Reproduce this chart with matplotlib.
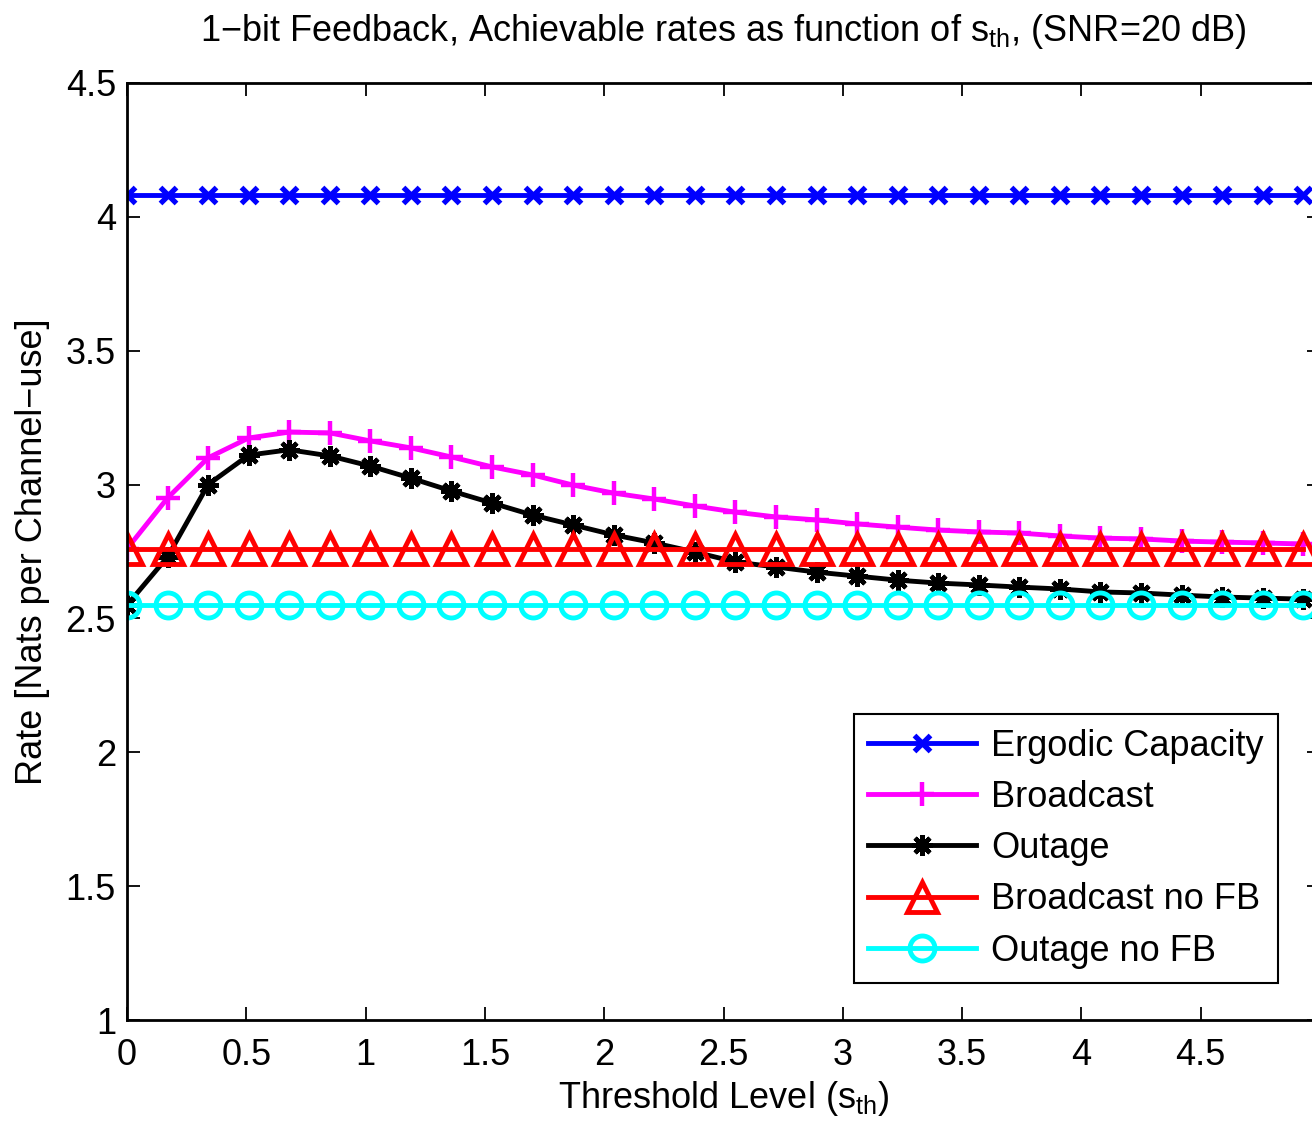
import matplotlib
matplotlib.use("Agg")
import matplotlib.pyplot as plt

plt.rcParams['font.family'] = ['Liberation Sans', 'DejaVu Sans']
plt.rcParams['mathtext.fontset'] = 'custom'
plt.rcParams['mathtext.rm'] = 'Liberation Sans'
plt.rcParams['mathtext.it'] = 'Liberation Sans'
plt.rcParams['mathtext.default'] = 'regular'

# threshold levels
s_th = [0.00, 0.17, 0.34, 0.51, 0.68, 0.85, 1.02, 1.19, 1.36, 1.53,
        1.70, 1.87, 2.04, 2.21, 2.38, 2.55, 2.72, 2.89, 3.06, 3.23,
        3.40, 3.57, 3.74, 3.91, 4.08, 4.25, 4.42, 4.59, 4.76, 4.93]

ergodic = [4.08] * 30
broadcast = [2.76, 2.95, 3.10, 3.174, 3.196, 3.193, 3.163, 3.137, 3.103, 3.066,
             3.036, 2.998, 2.968, 2.946, 2.920, 2.897, 2.879, 2.868, 2.853, 2.841,
             2.830, 2.823, 2.819, 2.808, 2.800, 2.797, 2.789, 2.785, 2.782, 2.778]
outage = [2.55, 2.73, 3.00, 3.11, 3.13, 3.107, 3.069, 3.024, 2.976, 2.931,
          2.886, 2.849, 2.812, 2.782, 2.748, 2.711, 2.692, 2.673, 2.658, 2.643,
          2.632, 2.625, 2.617, 2.610, 2.599, 2.595, 2.587, 2.580, 2.576, 2.572]
broadcast_nofb = [2.76] * 30
outage_nofb = [2.55] * 30

fig = plt.figure(figsize=(13.12, 11.25), dpi=100)
ax = fig.add_axes([127/1312, 105/1125, (1320-127)/1312, 937/1125])

lw = 3.5
ax.plot(s_th, ergodic, color=(0, 0, 1), lw=lw, marker='x', ms=11, mew=3.8, label='Ergodic Capacity')
ax.plot(s_th, broadcast, color=(1, 0, 1), lw=lw, marker='+', ms=17, mew=3.2, label='Broadcast')
ax.plot(s_th, outage, color='k', lw=lw, marker=(8, 2, 0), ms=15, mew=3.2, label='Outage')
ax.plot(s_th, broadcast_nofb, color=(1, 0, 0), lw=lw, marker='^', ms=21, mew=3.5, mfc='none', label='Broadcast no FB')
ax.plot(s_th, outage_nofb, color=(0, 1, 1), lw=lw, marker='o', ms=18, mew=3.5, mfc='none', label='Outage no FB')

ax.set_xlim(0, 5)
ax.set_ylim(1, 4.5)
ax.set_xticks([0, 0.5, 1, 1.5, 2, 2.5, 3, 3.5, 4, 4.5])
ax.set_xticklabels(['0', '0.5', '1', '1.5', '2', '2.5', '3', '3.5', '4', '4.5'])
ax.set_yticks([1, 1.5, 2, 2.5, 3, 3.5, 4, 4.5])
ax.set_yticklabels(['1', '1.5', '2', '2.5', '3', '3.5', '4', '4.5'])
ax.tick_params(axis='both', direction='in', top=True, right=True, length=9.5, width=1.3, labelsize=26)
ax.tick_params(axis='x', pad=13)
ax.tick_params(axis='y', pad=8)
for sp in ax.spines.values():
    sp.set_linewidth(2)

ax.set_title(r'1−bit Feedback, Achievable rates as function of $s_{th}$, (SNR=20 dB)', fontsize=26, pad=30)
ax.set_xlabel(r'Threshold Level ($s_{th}$)', fontsize=26, labelpad=4)
ax.set_ylabel('Rate [Nats per Channel−use]', fontsize=26, labelpad=11)

leg = ax.legend(loc='lower right', bbox_to_anchor=(1278/1312, 1 - 983/1125),
                bbox_transform=fig.transFigure, borderaxespad=0, fontsize=26,
                fancybox=False, framealpha=1, edgecolor='k', handlelength=3.0,
                handletextpad=0.4, labelspacing=0.45, borderpad=0.4)
leg.get_frame().set_linewidth(1.5)

fig.savefig('out.png', dpi=100)
